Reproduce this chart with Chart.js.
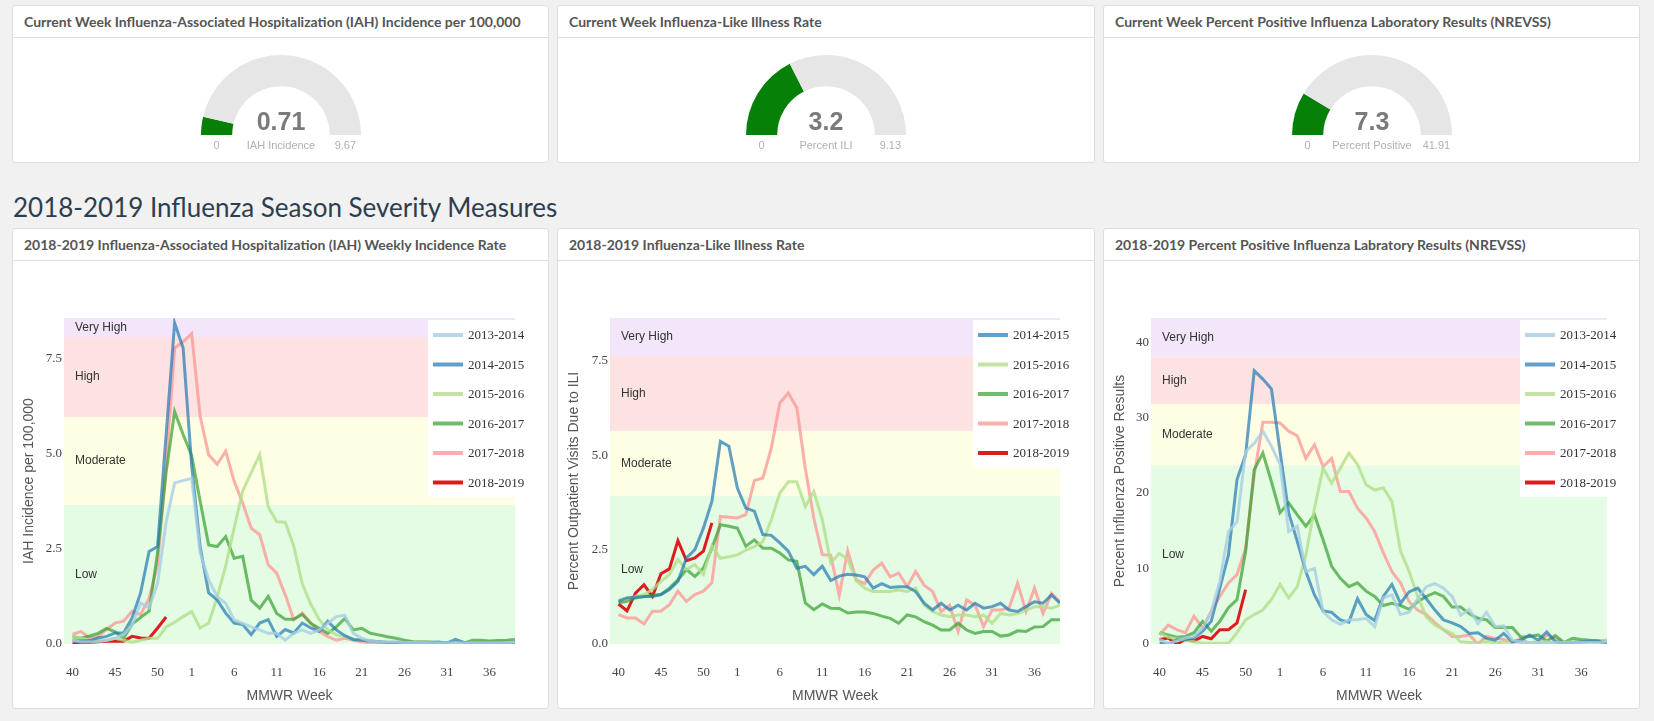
<!DOCTYPE html>
<html>
<head>
<meta charset="utf-8">
<title>Influenza Season Severity</title>
<script src="https://cdn.jsdelivr.net/npm/chart.js@4.4.1/dist/chart.umd.min.js"></script>
<style>
body { margin:0; background:#f1f1f1; width:1654px; height:721px; overflow:hidden; font-family:Lato, "Open Sans", sans-serif; }
.panel { position:absolute; background:#fff; border:1px solid #dedede; border-radius:3px; box-sizing:border-box; }
.panel .hd { height:31px; line-height:31px; border-bottom:1px solid #dedede; padding-left:11px; font-weight:bold; font-size:14px; color:#555; white-space:nowrap; overflow:hidden; }
h2 { position:absolute; left:13px; top:190px; margin:0; font-weight:400; font-size:26px; line-height:34px; color:#2c3e50; white-space:nowrap; }
.cv { position:absolute; }
</style>
</head>
<body>

<div class="panel" style="left:12px;top:5px;width:537px;height:158px"><div class="hd">Current Week Influenza-Associated Hospitalization (IAH) Incidence per 100,000</div></div>
<div class="panel" style="left:557px;top:5px;width:538px;height:158px"><div class="hd">Current Week Influenza-Like Illness Rate</div></div>
<div class="panel" style="left:1103px;top:5px;width:537px;height:158px"><div class="hd">Current Week Percent Positive Influenza Laboratory Results (NREVSS)</div></div>

<h2>2018-2019 Influenza Season Severity Measures</h2>

<div class="panel" style="left:12px;top:228px;width:537px;height:481px"><div class="hd">2018-2019 Influenza-Associated Hospitalization (IAH) Weekly Incidence Rate</div></div>
<div class="panel" style="left:557px;top:228px;width:538px;height:481px"><div class="hd">2018-2019 Influenza-Like Illness Rate</div></div>
<div class="panel" style="left:1103px;top:228px;width:537px;height:481px"><div class="hd">2018-2019 Percent Positive Influenza Labratory Results (NREVSS)</div></div>

<div class="cv" style="left:131px;top:45px;width:300px;height:120px"><canvas id="g1"></canvas></div>
<div class="cv" style="left:676px;top:45px;width:300px;height:120px"><canvas id="g2"></canvas></div>
<div class="cv" style="left:1222px;top:45px;width:300px;height:120px"><canvas id="g3"></canvas></div>

<div class="cv" style="left:12px;top:260px;width:537px;height:448px"><canvas id="c1"></canvas></div>
<div class="cv" style="left:557px;top:260px;width:538px;height:448px"><canvas id="c2"></canvas></div>
<div class="cv" style="left:1103px;top:260px;width:537px;height:448px"><canvas id="c3"></canvas></div>

<script>
// MMWR weeks of the season (2014-2015 had a week 53)
var weeks = [40,41,42,43,44,45,46,47,48,49,50,51,52,53,
             1,2,3,4,5,6,7,8,9,10,11,12,13,14,15,16,17,18,19,20,
             21,22,23,24,25,26,27,28,29,30,31,32,33,34,35,36,37,38,39];
var weekTicks = [40,45,50,1,6,11,16,21,26,31,36];

var seasons = ['2013-2014','2014-2015','2015-2016','2016-2017','2017-2018','2018-2019'];
var seasonColors = ['rgba(166,206,227,0.8)','rgba(31,120,180,0.7)','rgba(178,223,138,0.8)',
                    'rgba(51,160,44,0.7)','rgba(251,154,153,0.8)','#dc1c1e'];

var levelNames  = ['Low','Moderate','High','Very High'];
var levelColors = ['#e4fce4','#fefee4','#fde2e2','#f3e6fb'];

// gauges
var gaugeValues = [0.71, 3.2, 7.3];
var gaugeMax    = [9.67, 9.13, 41.91];
var gaugeLabels = ['IAH Incidence', 'Percent ILI', 'Percent Positive'];

// IAH incidence per 100,000
var iahLevels = [0, 3.65, 5.96, 8.06, 8.56];
var iah1314 = [0.10,0.05,0.05,0.05,0.10,0.15,0.25,0.50,1.08,0.95,1.60,3.20,4.23,4.29,4.35,2.40,1.68,1.24,1.07,0.63,
               0.54,0.45,0.37,0.28,0.28,0.10,0.28,0.37,0.28,0.37,0.54,0.72,0.76,0.28,0.15,0.08,0.06,0.05,0.05,0.04,
               0.04,0.03,0.03,0.03,0.03,0.03,0.03,0.03,0.03,0.03,0.03,0.03,0.05];
var iah1415 = [0.09,0.08,0.09,0.16,0.20,0.29,0.29,0.68,1.34,2.43,2.56,5.50,8.43,7.77,4.70,2.55,1.34,1.16,0.81,0.55,
               0.51,0.25,0.55,0.64,0.20,0.38,0.29,0.55,0.42,0.33,0.60,0.37,0.22,0.12,0.10,0.08,0.06,0.04,0.03,0.03,
               0.02,0.02,0.03,0.05,0.02,0.12,0.04,0.02,0.02,0.03,0.03,0.02,0.03];
var iah1516 = [0.20,0.15,0.10,0.10,0.10,0.15,0.10,0.05,0.10,0.15,0.15,0.45,0.57,0.72,0.85,0.42,0.55,1.22,2.05,3.05,
               4.02,4.50,4.97,3.60,3.21,3.20,2.57,1.58,1.05,0.64,0.37,0.24,0.19,0.12,0.10,0.08,0.06,0.05,0.05,0.04,
               0.03,0.03,0.03,0.02,0.02,0.02,0.02,0.02,0.02,0.03,0.03,0.03,0.04];
var iah1617 = [0.19,0.15,0.21,0.28,0.41,0.32,0.15,0.52,0.70,0.86,2.40,4.50,6.10,5.50,4.95,3.75,2.60,2.56,2.82,2.25,
               2.30,1.15,0.94,1.25,0.80,0.65,0.65,0.78,0.54,0.41,0.28,0.45,0.67,0.37,0.41,0.28,0.24,0.19,0.15,0.10,
               0.06,0.05,0.05,0.04,0.04,0.03,0.02,0.10,0.10,0.08,0.09,0.10,0.12];
var iah1718 = [0.25,0.33,0.16,0.20,0.38,0.55,0.60,0.86,0.77,1.20,2.08,4.70,7.77,7.94,8.15,5.98,4.97,4.72,5.06,4.27,
               3.70,3.04,2.87,2.08,1.86,1.29,0.64,0.81,0.55,0.33,0.19,0.10,0.15,0.10,0.06,0.02,0.03,0.03,0.04,0.05,
               0.05,0.05,0.04,0.03,0.03,0.03,0.04,0.04,0.05,0.05,0.05,0.06,0.06];
var iah1819 = [0.00,0.03,0.04,0.06,0.07,0.07,0.07,0.20,0.16,0.15,0.42,0.71];

// percent of outpatient visits due to ILI
var iliLevels = [0, 3.93, 5.65, 7.63, 8.64];
var ili1415 = [1.13,1.22,1.24,1.26,1.26,1.31,1.44,1.66,2.28,2.50,3.07,3.78,5.37,5.24,4.13,3.60,3.52,2.90,2.88,2.68,
               2.46,2.01,2.06,1.84,2.06,1.68,1.80,1.85,1.83,1.78,1.48,1.60,1.50,1.52,1.52,1.39,1.08,0.90,1.08,0.90,
               1.03,0.90,1.08,0.95,0.99,1.08,0.90,0.86,0.99,1.12,1.08,1.30,1.08];
var ili1516 = [1.17,1.22,1.26,1.31,1.44,1.66,1.84,2.24,1.97,2.10,1.84,2.60,2.27,2.31,2.36,2.49,2.58,2.71,3.29,4.00,
               4.30,4.30,3.64,4.04,3.30,2.15,2.40,2.25,1.68,1.48,1.39,1.39,1.39,1.43,1.39,1.48,1.03,0.86,0.77,0.72,
               0.77,0.77,0.72,0.77,0.55,0.81,0.77,0.81,0.90,0.99,0.99,0.95,1.03];
var ili1617 = [1.09,1.13,1.22,1.26,1.29,1.31,1.48,1.70,1.97,1.79,2.01,2.54,3.16,3.12,3.07,2.59,2.76,2.54,2.54,2.41,
               2.23,2.19,1.09,0.91,1.06,0.95,0.94,0.82,0.85,0.85,0.81,0.74,0.68,0.55,0.77,0.72,0.59,0.50,0.37,0.37,
               0.55,0.37,0.28,0.33,0.33,0.21,0.24,0.35,0.33,0.45,0.46,0.64,0.64];
var ili1718 = [0.78,0.69,0.69,0.53,0.87,0.87,1.04,1.40,1.13,1.31,1.40,1.62,3.38,3.36,3.34,3.43,4.33,4.40,5.19,6.39,
               6.65,6.27,4.66,3.34,2.37,2.35,1.29,2.47,1.70,1.60,1.96,2.14,1.78,1.88,1.52,1.92,1.56,1.39,0.86,1.03,
               0.33,1.17,1.03,0.46,0.90,0.90,0.95,1.61,0.86,1.48,0.81,1.34,1.12];
var ili1819 = [1.06,0.88,1.35,1.57,1.26,1.86,1.99,2.74,2.21,2.28,2.46,3.21];

// percent positive influenza lab results
var posLevels = [0, 23.7, 31.8, 38.0, 43.2];
var pos1314 = [0.6,0.1,0.4,0.8,1.0,2.1,4.3,8.3,14.9,16.2,25.5,26.6,28.2,26.2,23.8,14.9,15.6,9.6,10.0,4.3,
               3.2,2.6,3.2,3.2,3.4,2.3,6.1,6.5,3.9,4.2,6.0,7.6,8.0,7.4,6.3,3.8,4.6,2.7,4.2,2.3,
               2.4,0.5,0.3,0.2,0.2,0.2,0.2,0.2,0.2,0.2,0.2,0.2,0.3];
var pos1415 = [0.13,0.0,0.57,0.6,0.8,1.7,3.0,7.4,11.8,21.8,25.1,36.2,35.1,33.8,25.5,17.4,13.6,9.6,6.5,4.4,
               4.2,3.2,2.9,6.0,3.9,3.1,6.3,7.9,5.4,6.9,7.4,6.0,4.5,3.2,2.8,2.3,1.4,1.5,0.75,0.5,
               1.4,0.3,0.5,1.2,0.5,1.6,0.3,0.1,0.2,0.3,0.4,0.4,0.0];
var pos1516 = [1.5,0.9,0.7,0.5,0.3,0.1,0.1,0.1,0.1,1.5,3.2,3.9,4.5,5.9,7.9,6.1,7.6,11.8,18.0,23.3,
               21.3,23.3,25.3,23.8,21.1,20.4,20.7,18.9,12.3,9.6,6.3,3.6,2.5,1.9,1.4,0.3,0.2,0.2,0.3,0.2,
               0.2,0.3,0.2,0.2,0.3,0.3,0.2,0.2,0.3,0.3,0.4,0.4,0.5];
var pos1617 = [1.5,1.2,0.9,1.0,1.5,3.0,1.7,3.0,4.8,5.9,12.3,23.1,25.3,21.5,17.4,18.7,17.1,15.6,17.1,13.8,
               10.3,8.7,7.6,8.1,7.0,6.3,5.1,5.4,5.1,4.6,5.6,6.3,6.8,6.3,4.9,4.9,4.0,3.4,3.2,2.2,
               2.2,2.2,0.9,1.0,1.2,0.4,1.1,0.2,0.75,0.6,0.5,0.4,0.3];
var pos1718 = [1.2,2.5,1.9,1.5,3.7,2.1,4.3,6.3,8.1,9.2,12.7,22.4,29.4,29.4,29.3,28.2,27.6,24.6,26.4,23.5,
               24.6,20.2,20.2,18.0,16.7,14.9,12.1,9.6,8.1,5.6,4.5,3.9,2.8,1.9,1.0,1.0,1.2,0.0,1.0,0.75,
               0.6,0.2,0.75,0.0,0.1,1.2,0.75,0.1,0.1,0.2,0.4,0.4,0.5];
var pos1819 = [0.6,0.8,0.0,0.6,0.4,1.0,0.7,1.9,1.9,2.8,7.2];

var tickFont  = { family: '"Liberation Serif", "Times New Roman", serif', size: 13 };
var titleFont = { family: '"Liberation Sans", Arial, sans-serif', size: 14 };
var gaugeGreen = '#078007';

function gauge(id, value, max, label){
	var gaugeText = {
		id: 'gaugeText',
		afterDraw: function(chart){
			var arc = chart.getDatasetMeta(0).data[0];
			var ctx = chart.ctx;
			var mid = (arc.outerRadius + arc.innerRadius) / 2;
			ctx.save();
			ctx.textAlign = 'center';
			ctx.textBaseline = 'middle';
			ctx.fillStyle = '#7a7a7a';
			ctx.font = 'bold 25px "Liberation Sans", Arial, sans-serif';
			ctx.fillText(String(value), arc.x, arc.y - 12);
			ctx.fillStyle = '#b0b0b0';
			ctx.font = '11px "Liberation Sans", Arial, sans-serif';
			ctx.fillText('0', arc.x - mid, arc.y + 11);
			ctx.fillText(label, arc.x, arc.y + 11);
			ctx.fillText(String(max), arc.x + mid, arc.y + 11);
			ctx.restore();
		}
	};
	new Chart(document.getElementById(id), {
		type: 'doughnut',
		data: {
			labels: ['value', 'rest'],
			datasets: [{
				data: [value, max - value],
				backgroundColor: [gaugeGreen, '#e6e6e6'],
				borderWidth: 0
			}]
		},
		options: {
			responsive: true,
			maintainAspectRatio: false,
			animation: false,
			events: [],
			rotation: -90,
			circumference: 180,
			cutout: '61%',
			layout: { padding: { top: 10, bottom: 30, left: 70, right: 70 } },
			plugins: { legend: { display: false }, tooltip: { enabled: false } }
		},
		plugins: [gaugeText]
	});
}

function lineChart(id, series, names, levels, yTitle, step, decimals, axisW, padR){
	var datasets = series.map(function(s, k){
		return {
			label: names[k],
			data: s,
			borderColor: seasonColors[seasons.indexOf(names[k])],
			borderWidth: 3,
			pointRadius: 0,
			fill: false,
			tension: 0
		};
	});

	//coloured severity bands behind the lines
	var bands = {
		id: 'bands',
		beforeDatasetsDraw: function(chart){
			var ctx = chart.ctx, a = chart.chartArea, y = chart.scales.y;
			ctx.save();
			for(var i = 0; i < levelNames.length; i++){
				var top = y.getPixelForValue(levels[i+1]);
				var bot = y.getPixelForValue(levels[i]);
				ctx.fillStyle = levelColors[i];
				ctx.fillRect(a.left, top, a.right - a.left, bot - top);
			}
			ctx.font = '12px "Liberation Sans", Arial, sans-serif';
			ctx.fillStyle = '#333';
			ctx.textAlign = 'left';
			ctx.textBaseline = 'middle';
			for(var j = 0; j < levelNames.length; j++){
				var t = y.getPixelForValue(levels[j+1]);
				var b = y.getPixelForValue(levels[j]);
				ctx.fillText(levelNames[j], a.left + 11, (t + b) / 2);
			}
			ctx.restore();
		}
	};

	//legend box in the top right corner of the plot
	var boxLegend = {
		id: 'boxLegend',
		afterDatasetsDraw: function(chart){
			var ctx = chart.ctx, a = chart.chartArea;
			var ds = chart.data.datasets;
			var x0 = a.right - 87, y0 = a.top + 2, rowH = 29.5;
			ctx.save();
			ctx.fillStyle = '#fff';
			ctx.fillRect(x0, y0, 102, rowH * ds.length);
			ds.forEach(function(d, i){
				var yy = y0 + 15 + i * rowH;
				ctx.strokeStyle = d.borderColor;
				ctx.lineWidth = 4;
				ctx.beginPath();
				ctx.moveTo(x0 + 5, yy);
				ctx.lineTo(x0 + 35, yy);
				ctx.stroke();
				ctx.fillStyle = '#333';
				ctx.font = '13px "Liberation Serif", "Times New Roman", serif';
				ctx.textAlign = 'left';
				ctx.textBaseline = 'middle';
				ctx.fillText(d.label, x0 + 40, yy + 1);
			});
			ctx.restore();
		}
	};

	new Chart(document.getElementById(id), {
		type: 'line',
		data: { labels: weeks.map(function(w, i){ return i; }), datasets: datasets },
		options: {
			responsive: true,
			maintainAspectRatio: false,
			animation: false,
			events: [],
			layout: { padding: { top: 58, right: padR, left: 0, bottom: 0 } },
			plugins: { legend: { display: false }, tooltip: { enabled: false } },
			scales: {
				x: {
					type: 'linear',
					min: -1,
					max: weeks.length - 1,
					grid: { display: false, drawTicks: false },
					border: { display: false },
					afterBuildTicks: function(s){
						s.ticks = weekTicks.map(function(w){ return { value: weeks.indexOf(w) }; });
					},
					afterFit: function(s){ s.height = 64; },
					ticks: {
						padding: 21,
						autoSkip: false,
						maxRotation: 0,
						font: tickFont,
						color: '#444',
						callback: function(v){ return weeks[v]; }
					},
					title: { display: true, text: 'MMWR Week', font: titleFont, color: '#555', padding: { top: 0, bottom: 3 } }
				},
				y: {
					min: 0,
					max: levels[levels.length - 1],
					grid: { display: false, drawTicks: false },
					border: { display: false },
					afterFit: function(s){ s.width = axisW; },
					ticks: {
						stepSize: step,
						includeBounds: false,
						padding: 2,
						font: tickFont,
						color: '#444',
						callback: function(v){ return v.toFixed(decimals); }
					},
					title: { display: true, text: yTitle, font: titleFont, color: '#555', padding: { top: 9, bottom: 0 } }
				}
			}
		},
		plugins: [bands, boxLegend]
	});
}

document.addEventListener("DOMContentLoaded", function() {
	gauge('g1', gaugeValues[0], gaugeMax[0], gaugeLabels[0]);
	gauge('g2', gaugeValues[1], gaugeMax[1], gaugeLabels[1]);
	gauge('g3', gaugeValues[2], gaugeMax[2], gaugeLabels[2]);

	lineChart('c1', [iah1314, iah1415, iah1516, iah1617, iah1718, iah1819], seasons,
		iahLevels, 'IAH Incidence per 100,000', 2.5, 1, 52, 34);
	lineChart('c2', [ili1415, ili1516, ili1617, ili1718, ili1819], seasons.slice(1),
		iliLevels, 'Percent Outpatient Visits Due to ILI', 2.5, 1, 53, 35);
	lineChart('c3', [pos1314, pos1415, pos1516, pos1617, pos1718, pos1819], seasons,
		posLevels, 'Percent Influenza Positive Results', 10, 0, 48, 33);
});
</script>
</body>
</html>
